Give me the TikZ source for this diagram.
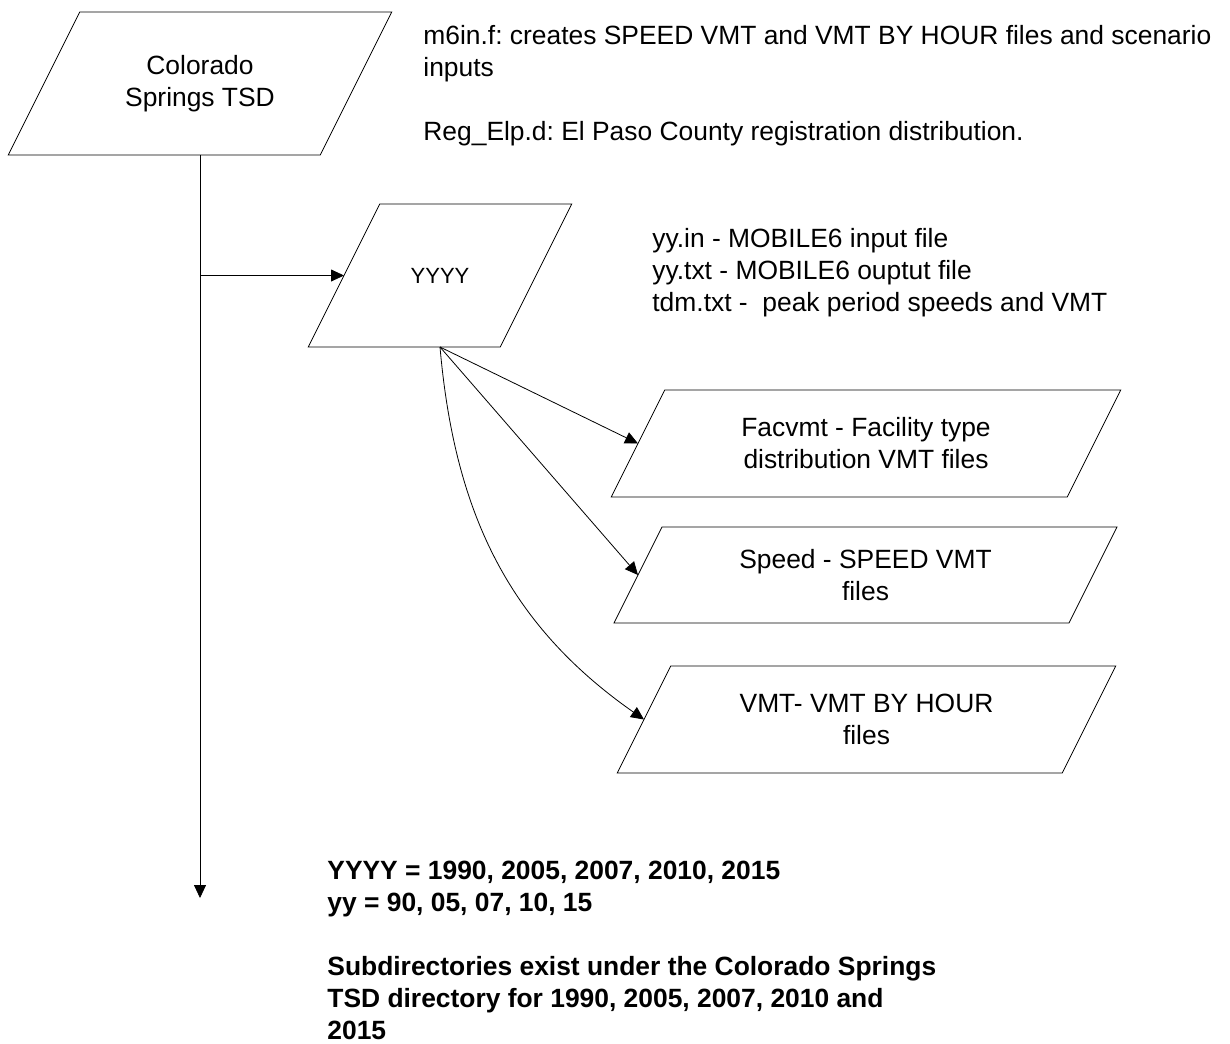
\documentclass[tikz,border=0pt]{standalone}
\usepackage{fontspec}
\setmainfont{Liberation Sans}
\usetikzlibrary{calc, arrows.meta}
\frenchspacing

\tikzset{
  datafile/.style={rectangle, inner sep=0pt, outer sep=0pt, align=center, font=\fontsize{19.8}{24}\selectfont},
  flow/.style={-{Triangle[length=9.75pt,width=9pt]}},
  note/.style={anchor=north west, inner sep=0pt, align=left, font=\fontsize{19.8}{24}\selectfont}
}

\begin{document}
\begin{tikzpicture}[x=0.75pt, y=-0.75pt, line width=0.6pt]
    \useasboundingbox (0,0) rectangle (1230,1043);

    % directory boxes
    \node[datafile, minimum width=234pt, minimum height=107.25pt] (tsd) at (200,83.5) {Colorado\\Springs TSD};
    \node[datafile, minimum width=144pt, minimum height=107.25pt, font=\fontsize{16.5}{20}\selectfont] (yyyy) at (440,275.5) {YYYY};

    % output files
    \node[datafile, minimum width=342pt, minimum height=80.25pt] (facvmt) at (866,443.5) {Facvmt - Facility type\\distribution VMT files};
    \node[datafile, minimum width=341.25pt, minimum height=72pt] (speed) at (865.5,575) {Speed - SPEED VMT\\files};
    \node[datafile, minimum width=333.75pt, minimum height=80.25pt] (vmt) at (866.5,719.5) {VMT- VMT BY HOUR\\files};

    % parallelogram outlines (slant = height/2)
    \foreach \f in {tsd,yyyy,facvmt,speed,vmt}
        \draw let \p1=(\f.north west), \p2=(\f.south east), \n1={(\y1-\y2)/4} in
            (\x1+\n1,\y1) -- (\x2+\n1,\y1) -- (\x2-\n1,\y2) -- (\x1-\n1,\y2) -- cycle;

    % notes
    \node[note] (m6in) at (423,25) {m6in.f: creates SPEED VMT and VMT BY HOUR files and scenario\\inputs\\[24pt]Reg\_Elp.d: El Paso County registration distribution.};
    \node[note] (yyfiles) at (652,228) {yy.in - MOBILE6 input file\\yy.txt - MOBILE6 ouptut file\\tdm.txt -\ \ peak period speeds and VMT};
    \node[note, font=\bfseries\fontsize{19.8}{24}\selectfont] (years) at (327,861) {YYYY = 1990, 2005, 2007, 2010, 2015\\yy = 90, 05, 07, 10, 15\\[24pt]Subdirectories exist under the Colorado Springs\\TSD directory for 1990, 2005, 2007, 2010 and\\2015};

    % trunk and branch
    \coordinate (trunkend) at (200,898);
    \coordinate (branch) at (tsd.south |- yyyy.west);
    \draw[flow] (tsd.south) -- (trunkend);
    \draw[flow] (branch) -- (yyyy.west);

    % files from YYYY
    \draw[flow] (yyyy.south) -- (facvmt.west);
    \draw[flow] (yyyy.south) -- (speed.west);
    \draw[flow] (yyyy.south) to[out=-85, in=145] (vmt.west);
\end{tikzpicture}
\end{document}
